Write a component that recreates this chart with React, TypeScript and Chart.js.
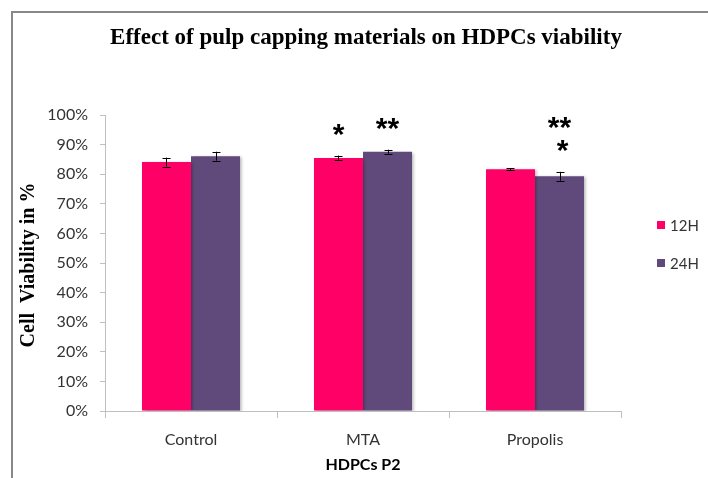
import React, { useEffect, useRef } from "react";
import { Chart, registerables } from "chart.js";

Chart.register(...registerables);

const categories = ["Control", "MTA", "Propolis"];
const seriesNames = ["12H", "24H"];
const values12H = [84.1, 85.5, 81.7];
const values24H = [86.1, 87.6, 79.3];
const errors12H = [1.5, 0.8, 0.4];
const errors24H = [1.5, 0.7, 1.5];
const stars12H = ["", "*", ""];
const stars24H = ["", "**", "**\n*"];
const yTickValues = [0, 10, 20, 30, 40, 50, 60, 70, 80, 90, 100];

const titleText = "Effect of pulp capping materials on HDPCs viability";
const yTitleText = "Cell  Viability in %";
const xTitleText = "HDPCs P2";

const colors = ["#FF0066", "#604A7B"];
const sansFont = "Lato, 'Open Sans', sans-serif";
const starFont = "'Liberation Sans', Arial, sans-serif";
const serifFont = "'Liberation Serif', 'Times New Roman', serif";

const extrasPlugin = {
  id: "extras",
  beforeDatasetDraw(chart: any) {
    const ctx = chart.ctx;
    ctx.save();
    ctx.shadowColor = "rgba(0,0,0,0.28)";
    ctx.shadowBlur = 3;
    ctx.shadowOffsetX = 2;
    ctx.shadowOffsetY = 1;
  },
  afterDatasetDraw(chart: any) {
    chart.ctx.restore();
  },
  afterDatasetsDraw(chart: any) {
    const ctx = chart.ctx;
    const y = chart.scales.y;
    const errs = [errors12H, errors24H];
    const stars = [stars12H, stars24H];
    ctx.save();
    chart.data.datasets.forEach((ds: any, i: number) => {
      const meta = chart.getDatasetMeta(i);
      meta.data.forEach((bar: any, j: number) => {
        const v = ds.data[j];
        const e = errs[i][j];
        const top = y.getPixelForValue(v + e);
        const bot = y.getPixelForValue(v - e);
        const x = Math.round(bar.x) + 0.5;
        ctx.strokeStyle = "#000";
        ctx.lineWidth = 1;
        ctx.beginPath();
        ctx.moveTo(x, top);
        ctx.lineTo(x, bot);
        ctx.moveTo(x - 4, Math.round(top) + 0.5);
        ctx.lineTo(x + 4, Math.round(top) + 0.5);
        ctx.moveTo(x - 4, Math.round(bot) + 0.5);
        ctx.lineTo(x + 4, Math.round(bot) + 0.5);
        ctx.stroke();
        const s = stars[i][j];
        if (s) {
          const lines = s.split("\n");
          ctx.fillStyle = "#000";
          ctx.font = `bold 30px ${starFont}`;
          ctx.textAlign = "center";
          ctx.textBaseline = "alphabetic";
          lines.forEach((ln: string, k: number) => {
            const m = ctx.measureText(ln);
            const cy = top - 26 - (lines.length - 1 - k) * 23;
            const baseline = cy + (m.actualBoundingBoxAscent - m.actualBoundingBoxDescent) / 2;
            ctx.fillText(ln, bar.x + (k === lines.length - 1 && lines.length > 1 ? 3 : 0), baseline);
          });
        }
      });
    });
    ctx.restore();
  },
  afterDraw(chart: any) {
    const ctx = chart.ctx;
    const area = chart.chartArea;
    ctx.save();
    ctx.fillStyle = "#000";
    ctx.font = `bold 23px ${serifFont}`;
    ctx.textAlign = "center";
    ctx.textBaseline = "middle";
    ctx.fillText(titleText, 366, 38);
    ctx.save();
    ctx.translate(29, 265);
    ctx.rotate(-Math.PI / 2);
    ctx.font = `bold 20px ${serifFont}`;
    ctx.fillText(yTitleText, 0, 0);
    ctx.restore();
    ctx.font = `bold 16px ${sansFont}`;
    ctx.fillText(xTitleText, (area.left + area.right) / 2, 465);
    ctx.font = `15px ${sansFont}`;
    ctx.textAlign = "left";
    seriesNames.forEach((name, i) => {
      const cy = 225 + i * 38;
      ctx.fillStyle = colors[i];
      ctx.fillRect(657, cy - 4, 8, 8);
      ctx.fillStyle = "#333";
      ctx.fillText(name, 670, cy + 1);
    });
    ctx.restore();
  },
};

function App() {
  const ref = useRef<HTMLCanvasElement | null>(null);
  useEffect(() => {
    if (!ref.current) return;
    const chart = new Chart(ref.current, {
      type: "bar",
      data: {
        labels: categories,
        datasets: [
          { label: seriesNames[0], data: values12H, backgroundColor: colors[0], categoryPercentage: 0.57, barPercentage: 1 },
          { label: seriesNames[1], data: values24H, backgroundColor: colors[1], categoryPercentage: 0.57, barPercentage: 1 },
        ],
      },
      options: {
        animation: false,
        responsive: false,
        maintainAspectRatio: false,
        layout: { padding: { left: 0, top: 115, right: 87, bottom: 0 } },
        plugins: { legend: { display: false }, title: { display: false }, tooltip: { enabled: false } },
        scales: {
          x: {
            afterFit: (s: any) => { s.height = 67; },
            grid: { drawOnChartArea: false, tickLength: 7, color: "#bfbfbf", offset: true },
            border: { color: "#bfbfbf", width: 1 },
            ticks: { color: "#333", font: { family: sansFont, size: 16 }, padding: 12 },
          },
          y: {
            min: 0,
            max: 100,
            afterFit: (s: any) => { s.width = 105; },
            afterBuildTicks: (s: any) => { s.ticks = yTickValues.map((v) => ({ value: v })); },
            grid: { drawOnChartArea: false, tickLength: 5, color: "#bfbfbf" },
            border: { color: "#bfbfbf", width: 1 },
            ticks: { color: "#333", font: { family: sansFont, size: 16 }, padding: 12, callback: (v: any) => `${v}%` },
          },
        },
      },
      plugins: [extrasPlugin],
    });
    return () => chart.destroy();
  }, []);
  return (
    <div style={{ position: "fixed", left: 0, top: 0, width: 708, height: 478, background: "#fff", overflow: "hidden" }}>
      <canvas ref={ref} width={708} height={478} style={{ position: "absolute", left: 0, top: 0 }} />
      <div style={{ position: "absolute", left: 11, top: 11, width: 720, height: 500, borderTop: "2px solid #888", borderLeft: "2px solid #888", pointerEvents: "none" }} />
    </div>
  );
}

export default App;
